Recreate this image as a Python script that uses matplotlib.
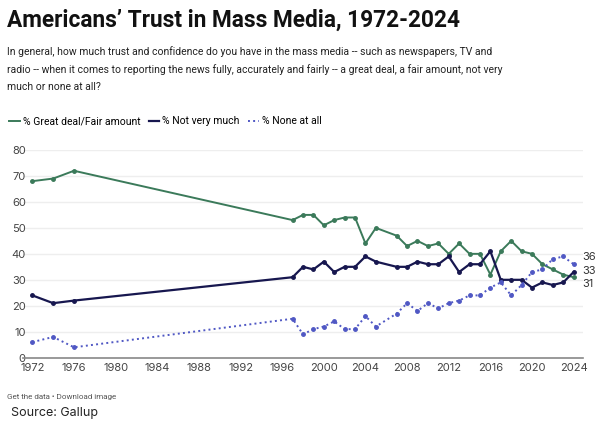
import matplotlib.pyplot as plt
from matplotlib import font_manager

years = [1972, 1974, 1976, 1997, 1998, 1999, 2000, 2001, 2002, 2003, 2004, 2005,
         2007, 2008, 2009, 2010, 2011, 2012, 2013, 2014, 2015, 2016, 2017, 2018,
         2019, 2020, 2021, 2022, 2023, 2024]
great_fair = [68, 69, 72, 53, 55, 55, 51, 53, 54, 54, 44, 50,
              47, 43, 45, 43, 44, 40, 44, 40, 40, 32, 41, 45,
              41, 40, 36, 34, 32, 31]
not_much = [24, 21, 22, 31, 35, 34, 37, 33, 35, 35, 39, 37,
            35, 35, 37, 36, 36, 39, 33, 36, 36, 41, 30, 30,
            30, 27, 29, 28, 29, 33]
none_all = [6, 8, 4, 15, 9, 11, 12, 14, 11, 11, 16, 12,
            17, 21, 18, 21, 19, 21, 22, 24, 24, 27, 29, 24,
            28, 33, 34, 38, 39, 36]
x_ticks = list(range(1972, 2025, 4))
y_ticks = list(range(0, 81, 10))

GREEN = '#3b7a5a'
NAVY = '#17174f'
BLUE = '#5058c4'

plt.rcParams['font.family'] = ['Inter', 'DejaVu Sans']
NARROW = ['Roboto', 'DejaVu Sans']

# subtitle font: a condensed face if one is installed, else smaller Roboto
names = {f.name for f in font_manager.fontManager.ttflist}
if 'Liberation Sans Narrow' in names:
    sub_family, sub_size = ['Liberation Sans Narrow', 'DejaVu Sans'], 9
else:
    sub_family, sub_size = NARROW, 7.5

fig = plt.figure(figsize=(6, 4.3), dpi=100)
ax = fig.add_axes([23 / 600, 1 - 357.7 / 430, (583 - 23) / 600, (357.7 - 150) / 430])

ax.plot(years, great_fair, color=GREEN, lw=1.4, marker='o', ms=2.5)
ax.plot(years, not_much, color=NAVY, lw=1.6, marker='o', ms=2.5)
ax.plot(years, none_all, color=BLUE, lw=1.4, ls=':', marker='o', ms=2.5)

ax.set_xlim(1971.1, 2024.9)
ax.set_ylim(0, 80)
ax.set_xticks(x_ticks)
ax.set_yticks(y_ticks)
ax.tick_params(length=0, labelsize=8, colors='#444444')
ax.tick_params(axis='y', pad=-2)
ax.grid(axis='y', color='#eeeeee', lw=1)
ax.set_axisbelow(True)
for s in ['top', 'right', 'left']:
    ax.spines[s].set_visible(False)
ax.spines['bottom'].set_color('#888888')
ax.spines['bottom'].set_linewidth(1.2)

# end labels, nudged apart vertically
for vals, dy in ((none_all, 5), (not_much, 0.5), (great_fair, -5)):
    ax.annotate(str(vals[-1]), (years[-1], vals[-1]), xytext=(6.5, dy),
                textcoords='offset points', va='center', ha='left',
                fontsize=8, color='#333333', annotation_clip=False)

fig.text(0.012, 0.953, 'Americans\u2019 Trust in Mass Media, 1972-2024',
         fontsize=16.3, fontweight='bold', va='center', ha='left', color='#111111',
         family=NARROW)
sub = ('In general, how much trust and confidence do you have in the mass media -- such as newspapers, TV and\n'
       'radio -- when it comes to reporting the news fully, accurately and fairly -- a great deal, a fair amount, not very\n'
       'much or none at all?')
fig.text(0.012, 0.893, sub, fontsize=sub_size, va='top', ha='left', color='#222222',
         linespacing=1.85, family=sub_family)

# legend
fig.legend(handles=ax.get_lines(),
           labels=['% Great deal/Fair amount', '% Not very much', '% None at all'],
           loc='center left', bbox_to_anchor=(0.0, 0.718), ncol=3, frameon=False,
           handlelength=1.0, handletextpad=0.3, columnspacing=0.8,
           markerscale=0, prop={'family': NARROW, 'size': 7.5})

fig.text(0.012, 0.077, 'Get the data \u2022 Download image', fontsize=5.8, color='#555555',
         va='center', family=NARROW)
fig.text(0.018, 0.04, 'Source: Gallup', fontsize=9, color='#222222', va='center')

fig.savefig('out.png', dpi=100)
